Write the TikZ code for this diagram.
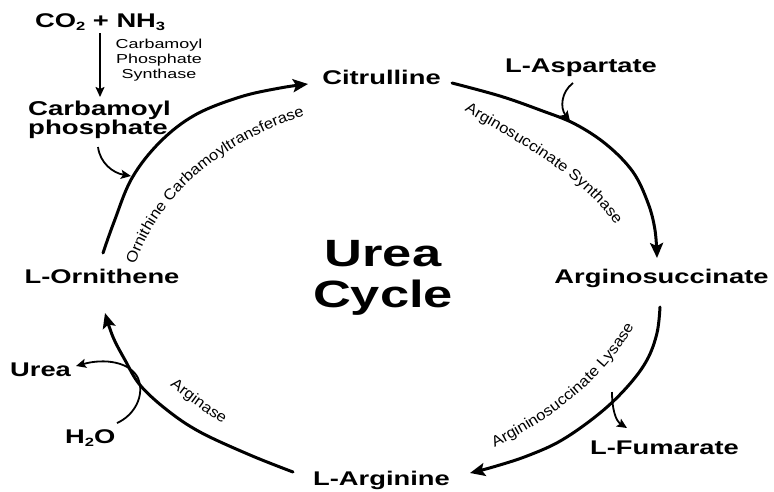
\documentclass[tikz,border=0pt]{standalone}
\usepackage{fontspec}
\usepackage{graphicx}
\setmainfont{Liberation Sans}[FakeStretch=1.38]
\newfontfamily\enzfont{Liberation Sans}[FakeStretch=1.1]
\usetikzlibrary{arrows.meta,decorations.text}
\newcommand{\subsc}[1]{\raisebox{-3.5pt}{\fontsize{12}{12}\selectfont #1}}
\begin{document}
\begin{tikzpicture}[x=1pt,y=-1pt,
  lab/.style={inner sep=0pt, font=\fontsize{19.8}{22}\selectfont\bfseries},
  cyclearc/.style={line width=3pt, line cap=round, -{Stealth[length=15pt,width=13pt,inset=3pt]}},
  side/.style={line width=1.8pt, -{Stealth[length=10pt,width=9pt,inset=2pt]}},
  enz/.style={decorate, decoration={text along path, text align=center, text={|\enzfont\fontsize{15}{17}\selectfont|#1}}},
]
\useasboundingbox (0,0) rectangle (774,491);

% labels
\node[lab, anchor=base west] (co2) at (35,27) {CO\subsc{2} + NH\subsc{3}};
\node[inner sep=0pt, anchor=north, align=center, font=\fontsize{13}{15}\selectfont] (cps) at (159,38.5) {Carbamoyl\\Phosphate\\Synthase};
\node[inner sep=0pt, anchor=north west, align=left, font=\fontsize{20}{18}\selectfont\bfseries] (cp) at (28,100.5) {Carbamoyl\\phosphate};
\node[lab, anchor=base] (cit) at (381.5,84) {Citrulline};
\node[lab, anchor=base] (asp) at (581,72) {L-Aspartate};
\node[lab, anchor=base] (args) at (661.5,283) {Arginosuccinate};
\node[lab, anchor=base] (fum) at (664.5,454) {L-Fumarate};
\node[lab, anchor=base] (arg) at (381.5,485) {L-Arginine};
\node[lab, anchor=base] (orn) at (102,283) {L-Ornithene};
\node[lab, anchor=base west] (urea) at (10,376) {Urea};
\node[lab, anchor=base west] (h2o) at (65,443) {H\subsc{2}O};
\node[inner sep=0pt, anchor=north, align=center, font=\fontsize{38}{41}\selectfont\bfseries] (title) at (383,239.8) {Urea\\Cycle};

% connector end points
\coordinate (co2b) at (100,33);
\coordinate (cpt) at (100,97);
\coordinate (cpa) at (98,147);
\coordinate (cpe) at (131,176);
\coordinate (aspa) at (573,83);
\coordinate (aspe) at (570,121);
\coordinate (fuma) at (612,392);
\coordinate (fume) at (627,428);
\coordinate (h2oa) at (117,423);
\coordinate (ureae) at (76,366);

% main cycle arcs
\draw[cyclearc] plot[smooth, tension=0.6] coordinates {(103,253) (114,222) (132,178) (160,142) (195,115) (240,97) (280,88) (308,84)};
\draw[cyclearc] plot[smooth, tension=0.6] coordinates {(452,83) (500,96) (540,110) (575,124) (607,145) (633,172) (648,203) (655,230) (657,258)};
\draw[cyclearc] plot[smooth, tension=0.6] coordinates {(660,307) (657,333) (647,360) (628,386) (600,413) (562,440) (527,456) (493,467) (470,473)};
\draw[cyclearc] plot[smooth, tension=0.6] coordinates {(293,472) (250,455) (200,432) (167,410) (140,385) (125,360) (113,337) (105,313)};

% side arrows
\draw[side] (co2b) -- (cpt);
\draw[side] (cpa) .. controls (100,163) and (113,173) .. (cpe);
\draw[side] (aspa) .. controls (561,92) and (560,108) .. (aspe);
\draw[side] (fuma) .. controls (612,410) and (616,421) .. (fume);
\draw[side] (h2oa) .. controls (135,415) and (145,395) .. (138,378) .. controls (130,362) and (105,358) .. (ureae);

% enzyme labels
\path[enz={Ornithine Carbamoyltransferase}] (133,272) .. controls (155,196) and (225,138) .. (312,114);
\path[enz={Arginosuccinate Synthase}] (456,106) .. controls (510,138) and (585,175) .. (621,233);
\path[enz={Argininosuccinate Lysase}] (478,455) .. controls (544,426) and (612,378) .. (642,310);
\path[enz={Arginase}] (156,375) .. controls (183,396) and (208,416) .. (238,433);
\end{tikzpicture}
\end{document}
